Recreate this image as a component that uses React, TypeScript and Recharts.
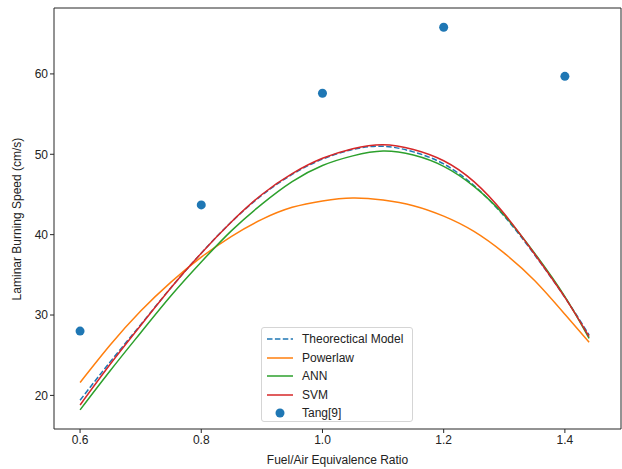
import { ComposedChart, Line, Scatter, XAxis, YAxis, ReferenceLine } from "recharts"

// equivalence ratio samples for the model curves
const phi = [0.6, 0.65, 0.7, 0.75, 0.8, 0.85, 0.9, 0.95, 1.0, 1.05, 1.1, 1.15, 1.2, 1.25, 1.3, 1.35, 1.4, 1.44]
const theory = [19.4, 24.2, 28.8, 33.4, 37.7, 41.6, 44.9, 47.5, 49.4, 50.6, 51.0, 50.3, 48.8, 46.1, 42.3, 37.5, 32.2, 27.5]
const powerlaw = [21.6, 26.3, 30.5, 34.1, 37.2, 39.8, 41.9, 43.4, 44.2, 44.55, 44.3, 43.6, 42.3, 40.4, 37.7, 34.3, 30.1, 26.6]
const ann = [18.2, 23.1, 27.8, 32.4, 36.6, 40.5, 43.8, 46.6, 48.6, 49.8, 50.4, 49.9, 48.5, 46.0, 42.4, 37.7, 32.3, 27.1]
const svm = [18.8, 23.9, 28.7, 33.4, 37.7, 41.6, 45.0, 47.6, 49.5, 50.7, 51.2, 50.6, 49.2, 46.6, 42.6, 37.6, 32.2, 27.3]

// Tang[9] measurements
const tangPhi = [0.6, 0.8, 1.0, 1.2, 1.4]
const tangSpeed = [28.0, 43.7, 57.6, 65.8, 59.7]

const xTicks = [0.6, 0.8, 1.0, 1.2, 1.4]
const yTicks = [20, 30, 40, 50, 60]

const X_DOMAIN = [0.557, 1.4926]
const Y_DOMAIN = [15.82, 68.2]

const curveData = phi.map((x, i) => ({
  x,
  theory: theory[i],
  powerlaw: powerlaw[i],
  ann: ann[i],
  svm: svm[i],
}))
const tangData = tangPhi.map((x, i) => ({ x, tang: tangSpeed[i] }))

const FONT = '"Liberation Sans", Arial, sans-serif'
const AXIS = "#262626"

const legendItems = [
  { name: "Theorectical Model", color: "#1f77b4", dash: "5.5 2.4", dot: false },
  { name: "Powerlaw", color: "#ff7f0e", dash: undefined, dot: false },
  { name: "ANN", color: "#2ca02c", dash: undefined, dot: false },
  { name: "SVM", color: "#d62728", dash: undefined, dot: false },
  { name: "Tang[9]", color: "#1f77b4", dash: undefined, dot: true },
]

const tickStyle = { fill: "#222", fontSize: 12, fontFamily: FONT }

export default function App() {
  return (
    <div style={{ position: "absolute", left: 0, top: 0, width: 622, height: 469, background: "#fff", fontFamily: FONT }}>
      <ComposedChart width={622} height={469} margin={{ top: 8, right: 1, bottom: 0, left: 0 }}>
        <XAxis
          type="number"
          dataKey="x"
          domain={X_DOMAIN}
          ticks={xTicks}
          allowDataOverflow
          tickFormatter={(v) => v.toFixed(1)}
          height={40}
          tickSize={4}
          stroke={AXIS}
          tick={tickStyle}
        />
        <YAxis
          type="number"
          domain={Y_DOMAIN}
          ticks={yTicks}
          allowDataOverflow
          width={54}
          tickSize={4}
          stroke={AXIS}
          tick={tickStyle}
        />
        <ReferenceLine y={Y_DOMAIN[1]} stroke={AXIS} />
        <ReferenceLine x={X_DOMAIN[1]} stroke={AXIS} />
        <Line data={curveData} dataKey="theory" type="natural" stroke="#1f77b4" strokeWidth={1.5} strokeDasharray="5.5 2.4" dot={false} isAnimationActive={false} />
        <Line data={curveData} dataKey="powerlaw" type="natural" stroke="#ff7f0e" strokeWidth={1.5} dot={false} isAnimationActive={false} />
        <Line data={curveData} dataKey="ann" type="natural" stroke="#2ca02c" strokeWidth={1.5} dot={false} isAnimationActive={false} />
        <Line data={curveData} dataKey="svm" type="natural" stroke="#d62728" strokeWidth={1.5} dot={false} isAnimationActive={false} />
        <Scatter
          data={tangData}
          dataKey="tang"
          fill="#1f77b4"
          isAnimationActive={false}
          shape={(p: any) => <circle cx={p.cx} cy={p.cy} r={4.5} fill="#1f77b4" />}
        />
      </ComposedChart>

      {/* axis titles */}
      <div style={{ position: "absolute", left: 337.5, top: 460, transform: "translate(-50%, -50%)", fontSize: 12, color: "#222", whiteSpace: "nowrap" }}>
        Fuel/Air Equivalence Ratio
      </div>
      <div style={{ position: "absolute", left: 17, top: 218.5, transform: "translate(-50%, -50%) rotate(-90deg)", fontSize: 12, color: "#222", whiteSpace: "nowrap" }}>
        Laminar Burning Speed (cm/s)
      </div>

      {/* legend */}
      <div
        style={{
          position: "absolute",
          left: 261,
          top: 327,
          width: 152,
          height: 95,
          border: "1px solid #d5d5d5",
          borderRadius: 3,
          background: "rgba(255,255,255,0.8)",
          boxSizing: "border-box",
        }}
      >
        {legendItems.map((it, i) => (
          <div key={it.name} style={{ position: "absolute", left: 4, top: 2 + i * 18.5, height: 18, display: "flex", alignItems: "center" }}>
            <svg width={28} height={18} style={{ marginRight: 8 }}>
              {it.dot ? (
                <circle cx={14} cy={9} r={4.5} fill={it.color} />
              ) : (
                <line x1={1} x2={27} y1={9} y2={9} stroke={it.color} strokeWidth={1.5} strokeDasharray={it.dash} />
              )}
            </svg>
            <span style={{ fontSize: 12, color: "#222", whiteSpace: "nowrap" }}>{it.name}</span>
          </div>
        ))}
      </div>
    </div>
  )
}
